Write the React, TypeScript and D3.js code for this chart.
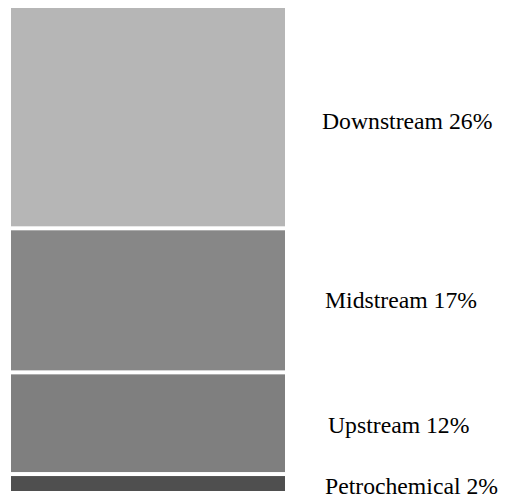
import React from "react";
import * as d3 from "d3";

const categories = ["Downstream", "Midstream", "Upstream", "Petrochemical"];
const values = [26, 17, 12, 2];
const colors = ["#b6b6b6", "#878787", "#7f7f7f", "#4f4f4f"];

const W = 507;
const H = 500;
const labelX = [322, 325, 328, 325];
const labelDy = [11, 8, 10, 11];

export default function App() {
  const total = d3.sum(values);
  const y = d3.scaleLinear().domain([0, total]).range([8, 491]);
  const x0 = 11;
  const x1 = 285;
  const gap = 2;
  let acc = 0;
  const segs = values.map((v, i) => {
    const s = acc;
    acc += v;
    return { i, s, e: acc };
  });
  return (
    <svg
      width={W}
      height={H}
      style={{ position: "absolute", left: 0, top: 0, background: "#fff" }}
    >
      {segs.map(({ i, s, e }) => {
        const top = y(s) + (i === 0 ? 0 : gap);
        const bot = y(e) - (i === segs.length - 1 ? 0 : gap);
        const mid = (y(s) + y(e)) / 2;
        return (
          <g key={categories[i]}>
            <rect x={x0} y={top} width={x1 - x0} height={bot - top} fill={colors[i]} />
            <text
              x={labelX[i]}
              y={mid + labelDy[i]}
              style={{ fontFamily: "Liberation Serif, Times New Roman, DejaVu Serif, serif", fontSize: "23.7px" }}
              fill="#000"
            >
              {`${categories[i]} ${values[i]}%`}
            </text>
          </g>
        );
      })}
    </svg>
  );
}
